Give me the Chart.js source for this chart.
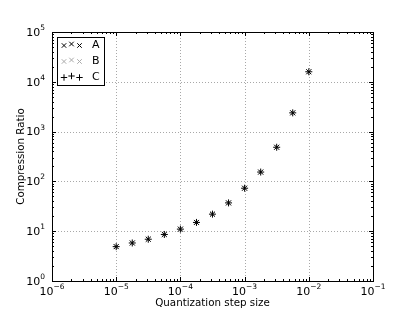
<!DOCTYPE html>
<html>
<head>
<meta charset="utf-8">
<script src="https://cdn.jsdelivr.net/npm/chart.js@4/dist/chart.umd.min.js"></script>
<style>
  html, body { margin: 0; background: #fff; }
</style>
</head>
<body>
<canvas id="chart" width="415" height="312"></canvas>
<script>
// data
const steps = [1e-5, 1.78e-5, 3.16e-5, 5.62e-5, 1e-4, 1.78e-4, 3.16e-4, 5.62e-4, 1e-3, 1.78e-3, 3.16e-3, 5.62e-3, 1e-2];
const ratioA = [4.9, 5.8, 6.9, 8.6, 11.0, 15.0, 22, 37, 73, 154, 485, 2380, 15900];
const ratioB = [4.9, 5.8, 6.9, 8.6, 11.0, 15.0, 22, 37, 73, 154, 485, 2380, 15900];
const ratioC = [4.9, 5.8, 6.9, 8.6, 11.0, 15.0, 22, 37, 73, 154, 485, 2380, 15900];
const seriesNames = ["A", "B", "C"];
const xTickExps = [-6, -5, -4, -3, -2, -1];
const yTickExps = [0, 1, 2, 3, 4, 5];

const FONT = "DejaVu Sans";

function pts(ys) {
  return steps.map((s, i) => ({ x: s, y: ys[i] }));
}

// draw "10" with a raised exponent
function drawPow(ctx, e, px, py, align) {
  const base = "10";
  const exp = e < 0 ? "\u2212" + Math.abs(e) : String(e);
  ctx.font = "11px " + FONT;
  const w1 = ctx.measureText(base).width;
  ctx.font = "7.5px " + FONT;
  const w2 = ctx.measureText(exp).width;
  const total = w1 + w2;
  let left = align === "center" ? px - total / 2 : px - total;
  ctx.textAlign = "left";
  ctx.textBaseline = "middle";
  ctx.fillStyle = "#000";
  ctx.font = "11px " + FONT;
  ctx.fillText(base, left, py);
  ctx.font = "7.5px " + FONT;
  ctx.fillText(exp, left + w1, py - 5);
}

const framePlugin = {
  id: "framePlugin",
  beforeDatasetsDraw(chart) {
    const { ctx, chartArea: a, scales: { x, y } } = chart;
    ctx.save();
    ctx.strokeStyle = "#a8a8a8";
    ctx.lineWidth = 1;
    ctx.setLineDash([1, 2]);
    xTickExps.forEach(e => {
      const px = Math.round(x.getPixelForValue(Math.pow(10, e))) + 0.5;
      if (px < a.left + 2 || px > a.right - 2) return;
      ctx.beginPath(); ctx.moveTo(px, a.top); ctx.lineTo(px, a.bottom); ctx.stroke();
    });
    yTickExps.forEach(e => {
      const py = Math.round(y.getPixelForValue(Math.pow(10, e))) + 0.5;
      if (py < a.top + 2 || py > a.bottom - 2) return;
      ctx.beginPath(); ctx.moveTo(a.left, py); ctx.lineTo(a.right, py); ctx.stroke();
    });
    ctx.restore();
  },
  afterDatasetsDraw(chart) {
    const { ctx, chartArea: a, scales: { x, y } } = chart;
    ctx.save();
    ctx.strokeStyle = "#000";
    ctx.lineWidth = 1;
    ctx.setLineDash([]);

    // ticks, inward on all four sides
    const tick = (px, len, vertical) => {
      ctx.beginPath();
      if (vertical) {
        ctx.moveTo(px, a.bottom); ctx.lineTo(px, a.bottom - len);
        ctx.moveTo(px, a.top); ctx.lineTo(px, a.top + len);
      } else {
        ctx.moveTo(a.left, px); ctx.lineTo(a.left + len, px);
        ctx.moveTo(a.right, px); ctx.lineTo(a.right - len, px);
      }
      ctx.stroke();
    };
    xTickExps.forEach((e, i) => {
      tick(Math.round(x.getPixelForValue(Math.pow(10, e))) + 0.5, 4, true);
      if (i < xTickExps.length - 1) {
        for (let k = 2; k < 10; k++) tick(Math.round(x.getPixelForValue(k * Math.pow(10, e))) + 0.5, 2, true);
      }
    });
    yTickExps.forEach((e, i) => {
      tick(Math.round(y.getPixelForValue(Math.pow(10, e))) + 0.5, 4, false);
      if (i < yTickExps.length - 1) {
        for (let k = 2; k < 10; k++) tick(Math.round(y.getPixelForValue(k * Math.pow(10, e))) + 0.5, 2, false);
      }
    });

    // frame
    ctx.strokeRect(Math.round(a.left) + 0.5, Math.round(a.top) + 0.5, Math.round(a.right - a.left), Math.round(a.bottom - a.top));

    // tick labels
    xTickExps.forEach(e => drawPow(ctx, e, x.getPixelForValue(Math.pow(10, e)), a.bottom + 11, "center"));
    yTickExps.forEach(e => drawPow(ctx, e, a.left - 7, y.getPixelForValue(Math.pow(10, e)) + 1, "right"));

    // axis titles
    ctx.fillStyle = "#000";
    ctx.font = "10.3px " + FONT;
    ctx.textAlign = "center";
    ctx.textBaseline = "middle";
    ctx.fillText("Quantization step size", (a.left + a.right) / 2, 303);
    ctx.save();
    ctx.translate(21, (a.top + a.bottom) / 2);
    ctx.rotate(-Math.PI / 2);
    ctx.fillText("Compression Ratio", 0, 0);
    ctx.restore();

    // legend
    const lx = a.left + 5, ly = a.top + 5;
    ctx.fillStyle = "#fff";
    ctx.fillRect(lx, ly, 47, 48);
    ctx.strokeRect(lx + 0.5, ly + 0.5, 47, 48);
    chart.data.datasets.forEach((ds, i) => {
      const rowY = ly + 8.5 + i * 16;
      const opts = { pointStyle: ds.pointStyle, radius: 3.2, borderWidth: 1 };
      ctx.strokeStyle = ds.borderColor;
      [0, 7.5, 15.5].forEach((dx, j) => {
        Chart.helpers.drawPoint(ctx, opts, lx + 7 + dx, rowY + (j === 1 ? -1.5 : 0));
      });
      ctx.fillStyle = "#000";
      ctx.font = "11px " + FONT;
      ctx.textAlign = "left";
      ctx.fillText(ds.label, lx + 35, rowY);
    });
    ctx.restore();
  }
};

const noSize = (scale) => { scale.width = scale.isHorizontal() ? scale.width : 0; scale.height = scale.isHorizontal() ? 0 : scale.height; };

new Chart(document.getElementById("chart"), {
  type: "scatter",
  data: {
    datasets: [
      { label: seriesNames[0], data: pts(ratioA), pointStyle: "crossRot", borderColor: "#000", order: 2 },
      { label: seriesNames[1], data: pts(ratioB), pointStyle: "crossRot", borderColor: "#aaaaaa", order: 3 },
      { label: seriesNames[2], data: pts(ratioC), pointStyle: "cross", borderColor: "#000", order: 1 }
    ]
  },
  options: {
    responsive: false,
    animation: false,
    devicePixelRatio: 1,
    layout: { padding: { left: 52, right: 42, top: 32, bottom: 31 } },
    elements: { point: { radius: 3.5, borderWidth: 1, hoverRadius: 3.5 } },
    plugins: { legend: { display: false }, tooltip: { enabled: false } },
    scales: {
      x: {
        type: "logarithmic", min: 1e-6, max: 1e-1, afterFit: noSize,
        ticks: { display: false }, grid: { display: false }, border: { display: false }
      },
      y: {
        type: "logarithmic", min: 1, max: 1e5, afterFit: noSize,
        ticks: { display: false }, grid: { display: false }, border: { display: false }
      }
    }
  },
  plugins: [framePlugin]
});
</script>
</body>
</html>
